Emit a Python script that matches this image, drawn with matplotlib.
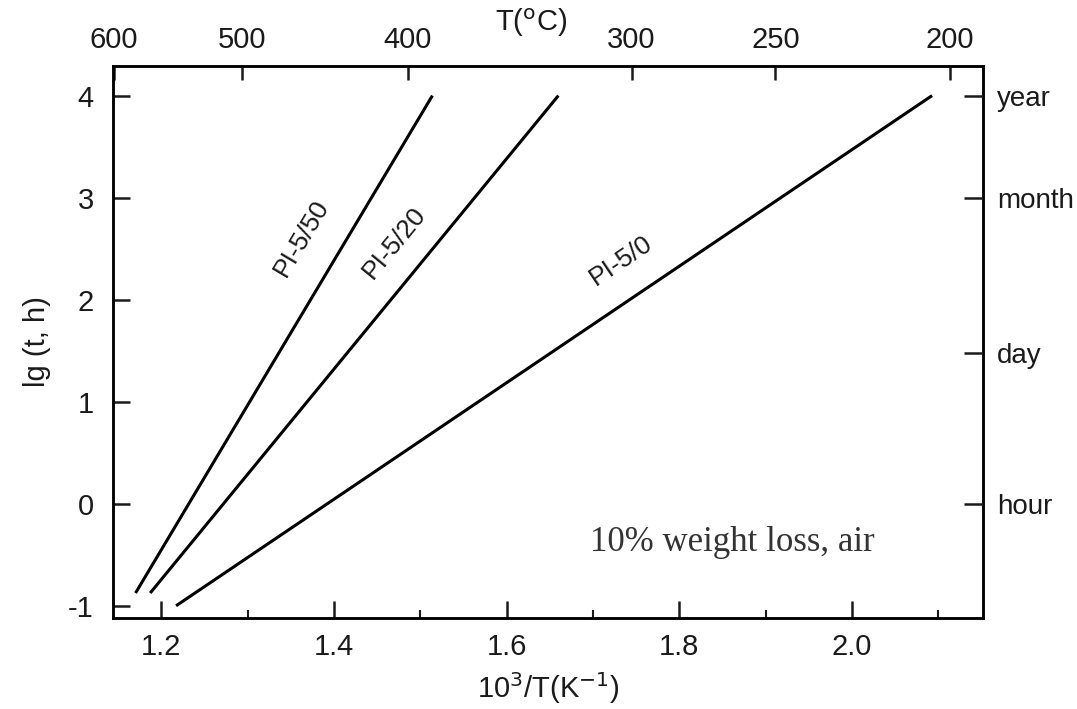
import numpy as np
import matplotlib
matplotlib.use("Agg")
import matplotlib.pyplot as plt

plt.rcParams['font.family'] = ['Liberation Sans', 'DejaVu Sans']
plt.rcParams['axes.unicode_minus'] = False

# Isothermal lifetime lines (10% weight loss in air)
curve_names = ["PI-5/50", "PI-5/20", "PI-5/0"]
x_start = [1.170, 1.187, 1.217]
y_start = [-0.875, -0.875, -1.0]
x_end = [1.514, 1.660, 2.093]
y_end = [4.0, 4.0, 4.0]
label_x = [1.362, 1.470, 1.733]
label_y = [2.60, 2.56, 2.38]

# Axis ticks
x_ticks = [1.2, 1.4, 1.6, 1.8, 2.0]
x_tick_labels = ["1.2", "1.4", "1.6", "1.8", "2.0"]
y_ticks = [-1, 0, 1, 2, 3, 4]
temp_c_ticks = [600, 500, 400, 300, 250, 200]
time_names = ["year", "month", "day", "hour"]
time_levels = [4.0, 3.0, 1.48, 0.0]

ink = "#1a1a1a"
fs = 21

fig = plt.figure(figsize=(10.77, 7.09), dpi=100)
ax = fig.add_axes([0.105, 0.1283, 0.8077, 0.7786])
ax.set_xlim(1.144, 2.152)
ax.set_ylim(-1.12, 4.29)

for name, x0, y0, x1, y1, lx, ly in zip(curve_names, x_start, y_start, x_end, y_end, label_x, label_y):
    ax.plot([x0, x1], [y0, y1], color="black", lw=2.2, solid_capstyle="butt")
    p0 = ax.transData.transform((x0, y0))
    p1 = ax.transData.transform((x1, y1))
    ang = np.degrees(np.arctan2(p1[1] - p0[1], p1[0] - p0[0]))
    ax.text(lx, ly, name, rotation=ang, rotation_mode="anchor", ha="center", va="center",
            fontsize=19, color=ink)

ax.text(1.862, -0.38, "10% weight loss, air", family=["Liberation Serif", "DejaVu Serif"],
        fontsize=25, color="#333333", ha="center", va="center")

# Bottom axis
ax.set_xticks(x_ticks)
ax.set_xticklabels(x_tick_labels)
ax.set_xticks(np.arange(1.3, 2.15, 0.2), minor=True)
ax.set_yticks(y_ticks)
ax.tick_params(axis="both", which="major", direction="in", length=12, width=1.8,
               labelsize=fs, colors=ink)
ax.tick_params(axis="x", which="minor", direction="in", length=6, width=1.5, colors=ink)
ax.tick_params(axis="x", which="major", pad=11)
ax.tick_params(axis="y", which="major", pad=14, right=False)
for s in ax.spines.values():
    s.set_linewidth(1.8)
ax.set_xlabel(r"10$^3$/T(K$^{-1}$)", fontsize=fs, color=ink, labelpad=6)
ax.set_ylabel("lg (t, h)", fontsize=fs, color=ink, labelpad=12)

# Top axis: temperature in Celsius
top = ax.twiny()
top.set_xlim(ax.get_xlim())
top.set_xticks([1000.0 / (t + 273.15) for t in temp_c_ticks])
top.set_xticklabels([str(t) for t in temp_c_ticks])
top.tick_params(axis="x", direction="in", length=10, width=1.8, labelsize=fs, colors=ink, pad=9)
top.set_xlabel(r"T($^{\rm o}$C)", fontsize=fs, color=ink)
top.xaxis.set_label_coords(0.48, 1.064)
for s in top.spines.values():
    s.set_linewidth(1.8)

# Right axis: time scale names
right = ax.twinx()
right.set_ylim(ax.get_ylim())
right.set_yticks(time_levels)
right.set_yticklabels(time_names)
right.tick_params(axis="y", direction="in", length=14, width=1.8, labelsize=20, colors=ink, pad=10)

fig.savefig("out.png", dpi=100)
